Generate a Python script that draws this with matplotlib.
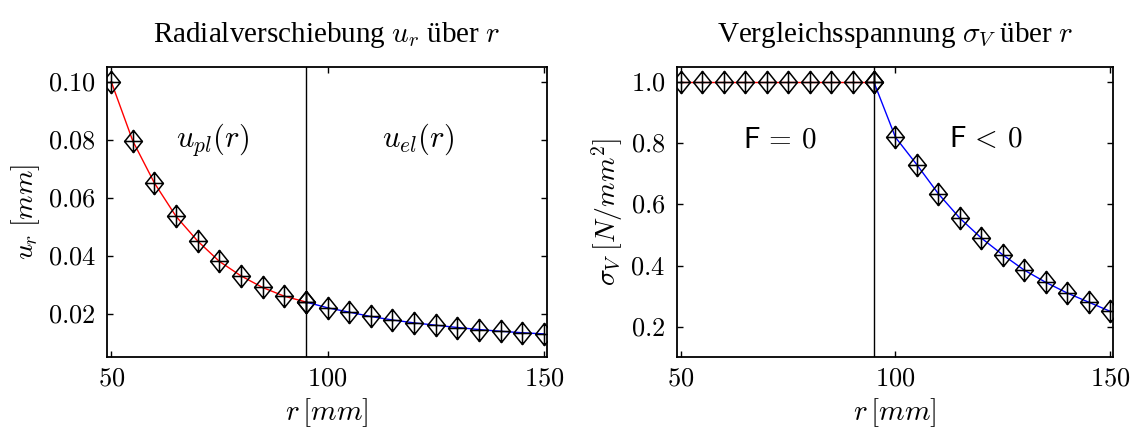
import numpy as np
import matplotlib
matplotlib.use("Agg")
import matplotlib.pyplot as plt
from matplotlib.path import Path
from matplotlib.ticker import FuncFormatter

plt.rcParams['font.family'] = ['Liberation Serif', 'DejaVu Serif']
plt.rcParams['mathtext.fontset'] = 'cm'

# Radius in mm (plastischer / elastischer Bereich)
r_pl = [50, 55, 60, 65, 70, 75, 80, 85, 90, 95]
r_el = [95, 100, 105, 110, 115, 120, 125, 130, 135, 140, 145, 150]

# Radialverschiebung u_r in mm
u_pl = [0.100, 0.0795, 0.065, 0.0535, 0.045, 0.038, 0.033, 0.029, 0.026, 0.024]
u_el = [0.024, 0.022, 0.0205, 0.019, 0.0178, 0.0168, 0.016, 0.0152, 0.0145, 0.0139, 0.0134, 0.013]

# Vergleichsspannung sigma_V in N/mm^2
s_pl = [1.0, 1.0, 1.0, 1.0, 1.0, 1.0, 1.0, 1.0, 1.0, 1.0]
s_el = [1.0, 0.82, 0.73, 0.635, 0.555, 0.49, 0.435, 0.385, 0.345, 0.31, 0.28, 0.25]

r_grenze = 95

# Raute mit Kreuz als Marker
verts = [(0, 1), (0.8, 0), (0, -1), (-0.8, 0), (0, 1),
         (0, 1), (0, -1), (-0.8, 0), (0.8, 0)]
codes = [Path.MOVETO, Path.LINETO, Path.LINETO, Path.LINETO, Path.CLOSEPOLY,
         Path.MOVETO, Path.LINETO, Path.MOVETO, Path.LINETO]
raute = Path(verts, codes)

fig = plt.figure(figsize=(11.37, 4.36), dpi=100)
ax1 = fig.add_axes([0.094, 0.181, 0.387, 0.665])
ax2 = fig.add_axes([0.595, 0.181, 0.384, 0.665])

def stil(ax):
    ax.tick_params(direction='in', top=True, right=True, length=4, width=1,
                   labelsize=19, pad=8)
    for s in ax.spines.values():
        s.set_linewidth(1.3)
    ax.set_xlim(49, 150.7)
    ax.set_xticks([50, 100, 150])
    ax.xaxis.set_major_formatter(FuncFormatter(lambda v, p: f"${v:.0f}$"))
    ax.set_xlabel(r"$r\,[mm]$", fontsize=21, labelpad=4)

mk = dict(marker=raute, markersize=16, markerfacecolor='none',
          markeredgecolor='black', markeredgewidth=1.1, linewidth=1.0)

# linkes Diagramm
ax1.plot(r_pl, u_pl, color='red', **mk)
ax1.plot(r_el, u_el, color='blue', **mk)
ax1.axvline(r_grenze, color='black', linewidth=1.0)
stil(ax1)
ax1.set_ylim(0.005, 0.105)
ax1.set_yticks([0.02, 0.04, 0.06, 0.08, 0.10])
ax1.yaxis.set_major_formatter(FuncFormatter(lambda v, p: f"${v:.2f}$"))
ax1.set_ylabel(r"$u_r\;[mm]$", fontsize=20, labelpad=4)
ax1.set_title(r"Radialverschiebung $u_r$ über $r$", fontsize=21, pad=18)
ax1.text(73.5, 0.08, r"$u_{pl}(r)$", fontsize=22, ha='center', va='center')
ax1.text(121, 0.08, r"$u_{el}(r)$", fontsize=22, ha='center', va='center')

# rechtes Diagramm
ax2.plot(r_pl, s_pl, color='red', **mk)
ax2.plot(r_el, s_el, color='blue', **mk)
ax2.axvline(r_grenze, color='black', linewidth=1.0)
stil(ax2)
ax2.set_ylim(0.1, 1.05)
ax2.set_yticks([0.2, 0.4, 0.6, 0.8, 1.0])
ax2.yaxis.set_major_formatter(FuncFormatter(lambda v, p: f"${v:.1f}$"))
ax2.set_ylabel(r"$\sigma_V\;[N/mm^2]$", fontsize=20, labelpad=4)
ax2.set_title(r"Vergleichsspannung $\sigma_V$ über $r$", fontsize=21, pad=18)
ax2.text(73, 0.81, r"$\mathsf{F}\,=\,0$", fontsize=21, ha='center', va='center')
ax2.text(121, 0.81, r"$\mathsf{F}\,<\,0$", fontsize=21, ha='center', va='center')

fig.savefig("out.png", dpi=100)
